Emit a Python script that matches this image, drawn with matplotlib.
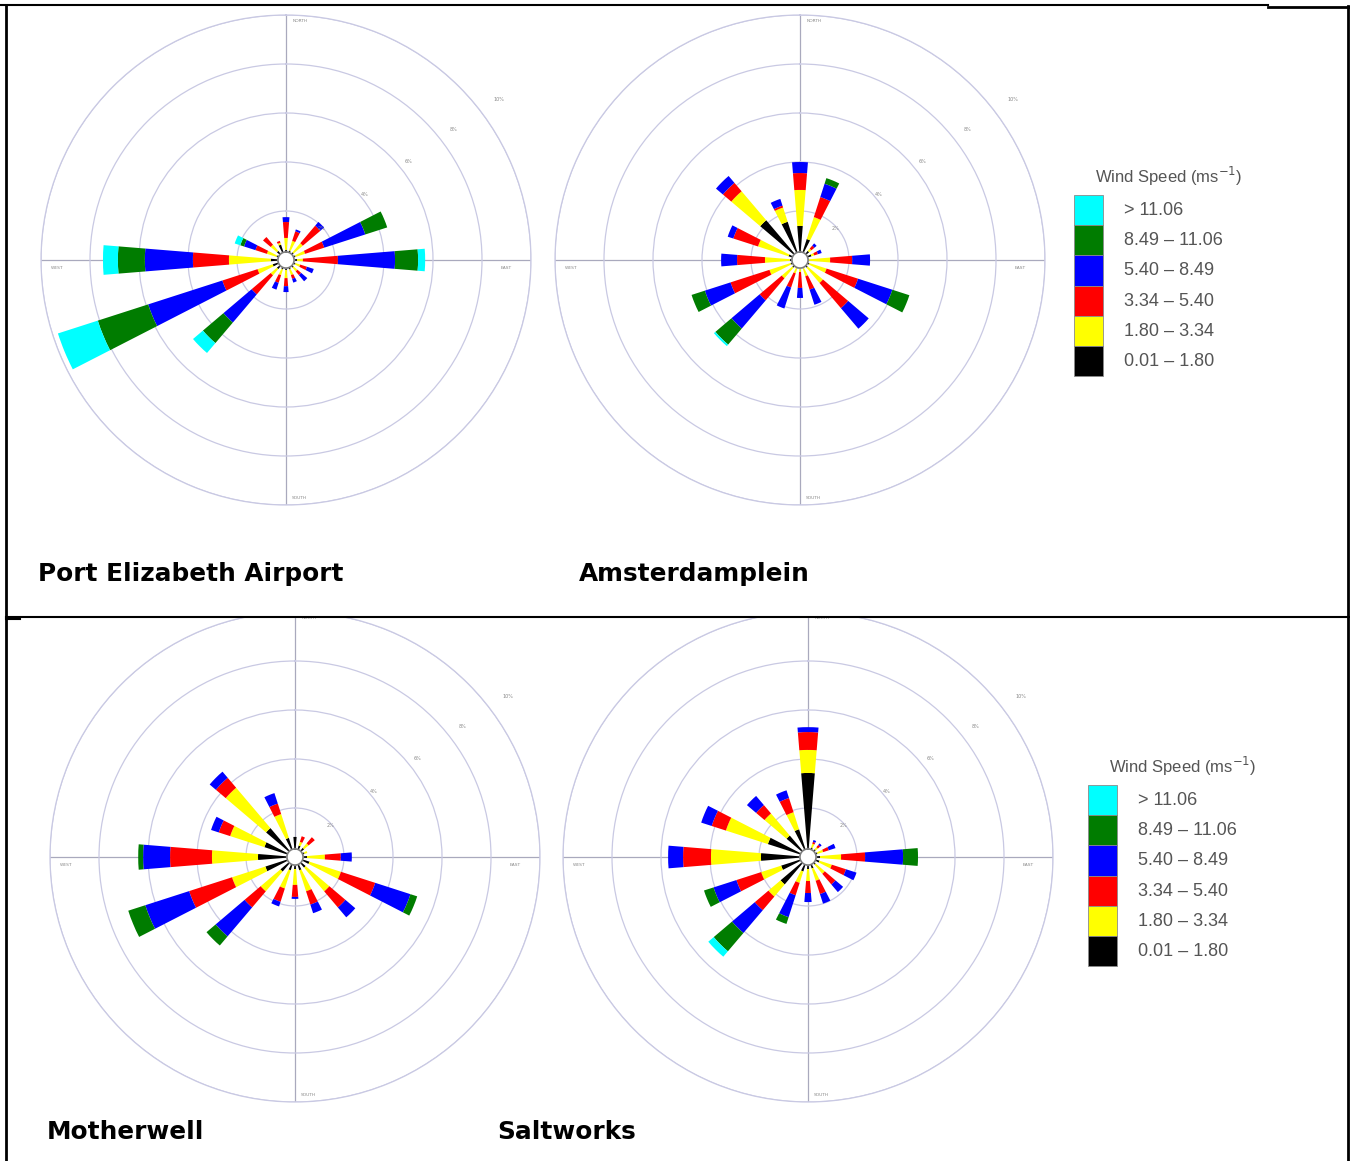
import numpy as np
import matplotlib.pyplot as plt
from matplotlib.patches import Rectangle

W, H = 1350, 1161

directions = np.arange(16) * 22.5
speed_labels = ['0.01 – 1.80', '1.80 – 3.34', '3.34 – 5.40', '5.40 – 8.49', '8.49 – 11.06', '> 11.06']
speed_colors = ['#000000', '#ffff00', '#ff0000', '#0000ff', '#007c00', '#00ffff']
ring_values = [2, 4, 6, 8, 10]
ring_labels = ['2%', '4%', '6%', '8%', '10%']
calm = 0.33

# frequency (%) per direction (N, NNE, ... NNW), columns = speed classes (slow -> fast)
pe_airport = [
    [0.08, 0.49, 0.65, 0.20, 0.00, 0.00],
    [0.08, 0.41, 0.41, 0.08, 0.00, 0.00],
    [0.08, 0.49, 0.94, 0.20, 0.00, 0.00],
    [0.08, 0.41, 0.82, 1.76, 0.94, 0.00],
    [0.12, 0.24, 1.43, 2.33, 0.94, 0.29],
    [0.08, 0.20, 0.29, 0.29, 0.00, 0.00],
    [0.08, 0.20, 0.20, 0.33, 0.00, 0.00],
    [0.08, 0.24, 0.16, 0.16, 0.00, 0.00],
    [0.08, 0.33, 0.33, 0.24, 0.00, 0.00],
    [0.08, 0.24, 0.33, 0.29, 0.00, 0.00],
    [0.16, 0.33, 1.02, 1.51, 1.10, 0.53],
    [0.24, 0.65, 1.51, 3.18, 2.16, 1.71],
    [0.29, 1.71, 1.47, 1.96, 1.10, 0.61],
    [0.08, 0.41, 0.49, 0.49, 0.16, 0.24],
    [0.16, 0.33, 0.41, 0.00, 0.00, 0.00],
    [0.33, 0.08, 0.08, 0.00, 0.00, 0.00],
]

amsterdamplein = [
    [1.06, 1.47, 0.69, 0.45, 0.00, 0.00],
    [0.57, 0.94, 0.86, 0.57, 0.24, 0.00],
    [0.16, 0.12, 0.16, 0.12, 0.00, 0.00],
    [0.16, 0.12, 0.16, 0.16, 0.00, 0.00],
    [0.04, 0.86, 0.90, 0.73, 0.00, 0.00],
    [0.08, 0.73, 1.35, 1.47, 0.73, 0.00],
    [0.08, 0.82, 1.35, 1.10, 0.00, 0.00],
    [0.04, 0.33, 0.57, 0.65, 0.00, 0.00],
    [0.04, 0.12, 0.65, 0.41, 0.00, 0.00],
    [0.04, 0.20, 0.61, 0.90, 0.00, 0.00],
    [0.08, 0.57, 1.18, 1.51, 0.86, 0.08],
    [0.08, 0.90, 1.67, 1.10, 0.57, 0.00],
    [0.08, 1.02, 1.14, 0.65, 0.00, 0.00],
    [0.16, 1.31, 1.06, 0.24, 0.00, 0.00],
    [1.80, 1.55, 0.45, 0.37, 0.00, 0.00],
    [1.31, 0.61, 0.08, 0.29, 0.00, 0.00],
]

motherwell = [
    [0.49, 0.00, 0.00, 0.00, 0.00, 0.00],
    [0.16, 0.16, 0.24, 0.00, 0.00, 0.00],
    [0.16, 0.24, 0.33, 0.00, 0.00, 0.00],
    [0.08, 0.12, 0.00, 0.00, 0.00, 0.00],
    [0.16, 0.73, 0.65, 0.45, 0.00, 0.00],
    [0.29, 1.35, 1.47, 1.51, 0.29, 0.00],
    [0.24, 1.27, 0.86, 0.53, 0.00, 0.00],
    [0.24, 0.90, 0.57, 0.37, 0.00, 0.00],
    [0.16, 0.65, 0.49, 0.08, 0.00, 0.00],
    [0.24, 0.78, 0.57, 0.20, 0.00, 0.00],
    [0.45, 1.06, 0.86, 1.55, 0.49, 0.00],
    [0.94, 1.43, 1.84, 1.88, 0.73, 0.00],
    [1.18, 1.88, 1.71, 1.10, 0.20, 0.00],
    [0.98, 1.47, 0.49, 0.33, 0.00, 0.00],
    [1.22, 2.16, 0.53, 0.33, 0.00, 0.00],
    [0.49, 1.02, 0.45, 0.45, 0.00, 0.00],
]

saltworks = [
    [3.10, 0.94, 0.73, 0.20, 0.00, 0.00],
    [0.08, 0.16, 0.08, 0.08, 0.00, 0.00],
    [0.08, 0.12, 0.12, 0.08, 0.00, 0.00],
    [0.08, 0.24, 0.24, 0.29, 0.00, 0.00],
    [0.16, 0.86, 0.98, 1.55, 0.61, 0.00],
    [0.16, 0.53, 0.61, 0.45, 0.00, 0.00],
    [0.08, 0.49, 0.57, 0.41, 0.00, 0.00],
    [0.16, 0.53, 0.57, 0.41, 0.00, 0.00],
    [0.16, 0.49, 0.49, 0.37, 0.00, 0.00],
    [0.29, 0.49, 0.53, 0.94, 0.29, 0.00],
    [1.14, 0.65, 0.73, 1.22, 0.98, 0.29],
    [0.82, 0.86, 1.06, 0.98, 0.41, 0.00],
    [1.59, 2.04, 1.14, 0.61, 0.00, 0.00],
    [1.39, 1.80, 0.61, 0.45, 0.00, 0.00],
    [0.82, 1.18, 0.45, 0.49, 0.00, 0.00],
    [0.86, 0.73, 0.61, 0.33, 0.00, 0.00],
]

fig = plt.figure(figsize=(W / 100, H / 100), dpi=100)
fig.patch.set_facecolor('white')


def rose(cx, cy, freq, R=245):
    ax = fig.add_axes([(cx - R) / W, 1 - (cy + R) / H, 2 * R / W, 2 * R / H], projection='polar')
    ax.set_theta_zero_location('N')
    ax.set_theta_direction(-1)
    freq = np.array(freq)
    theta = np.deg2rad(directions)
    bottom = np.full(len(directions), calm)
    for k in range(len(speed_colors)):
        ax.bar(theta, freq[:, k], width=np.deg2rad(9.3), bottom=bottom,
               color=speed_colors[k], edgecolor='none', linewidth=0, zorder=2)
        bottom = bottom + freq[:, k]
    t = np.linspace(0, 2 * np.pi, 100)
    ax.fill(t, np.full_like(t, calm), color='white', zorder=3)
    ax.plot(t, np.full_like(t, calm), color='#7a7a7a', lw=1.2, zorder=4)
    ax.set_ylim(0, 10)
    ax.set_rgrids(ring_values, labels=[])
    ax.set_thetagrids([0, 90, 180, 270], labels=[])
    ax.yaxis.grid(True, color='#c9c9e3', lw=0.9)
    ax.xaxis.grid(True, color='#a9a9bd', lw=0.9)
    ax.spines['polar'].set_color('#c9c9e3')
    ax.spines['polar'].set_linewidth(0.9)
    ax.set_axisbelow(True)
    for i, (rv, lab) in enumerate(zip(ring_values, ring_labels)):
        ax.text(np.deg2rad(49 + i), rv * 0.97 + 0.3 * i, lab, fontsize=3.5, color='#888888',
                ha='center', va='center')
    ax.text(np.deg2rad(1.6), 9.75, 'NORTH', fontsize=3.2, color='#888888', ha='left', va='center')
    ax.text(np.deg2rad(91.5), 9.0, 'EAST', fontsize=3.2, color='#888888', ha='center', va='top')
    ax.text(np.deg2rad(178.5), 9.7, 'SOUTH', fontsize=3.2, color='#888888', ha='left', va='center')
    ax.text(np.deg2rad(268.5), 9.35, 'WEST', fontsize=3.2, color='#888888', ha='center', va='top')
    return ax


rose(286, 260, pe_airport)
rose(800, 260, amsterdamplein)
rose(295, 857, motherwell)
rose(808, 857, saltworks)

ov = fig.add_axes([0, 0, 1, 1], zorder=10)
ov.set_xlim(0, W)
ov.set_ylim(H, 0)
ov.axis('off')

# table frame
ov.add_patch(Rectangle((7, 606), 1340, 11, facecolor='white', edgecolor='none'))
ov.plot([0, 1268], [5, 5], color='black', lw=1.5)
ov.plot([1268, 1349], [6.5, 6.5], color='black', lw=2)
ov.plot([1348, 1348], [6, H], color='black', lw=2)
ov.plot([6, 6], [5, H], color='black', lw=2)
ov.plot([6, 1350], [617, 617], color='black', lw=1.5)
ov.plot([6, 20], [619, 619], color='black', lw=1.5)

txt = dict(fontsize=17.8, fontweight='bold', family='DejaVu Sans', va='center', ha='left', color='black')
ov.text(38, 574, 'Port Elizabeth Airport', **txt)
ov.text(579, 574, 'Amsterdamplein', **txt)
ov.text(47, 1132, 'Motherwell', **txt)
ov.text(497, 1132, 'Saltworks', **txt)


def legend(x, y):
    ov.text(x + 21, y - 19, 'Wind Speed (ms$^{-1}$)', fontsize=12, color='#555555',
            family=['Liberation Sans', 'DejaVu Sans'], ha='left', va='center')
    n = len(speed_colors)
    for i in range(n):
        k = n - 1 - i
        top = y + i * 30.2
        ov.add_patch(Rectangle((x, top), 29, 30.2, facecolor=speed_colors[k],
                               edgecolor='#8a8a8a', lw=0.6))
        ov.text(x + 50, top + 15.5, speed_labels[k], fontsize=13, color='#555555',
                family=['Liberation Sans', 'DejaVu Sans'], ha='left', va='center')


legend(1074, 195)
legend(1088, 785)

fig.savefig('out.png', dpi=100, facecolor='white')
